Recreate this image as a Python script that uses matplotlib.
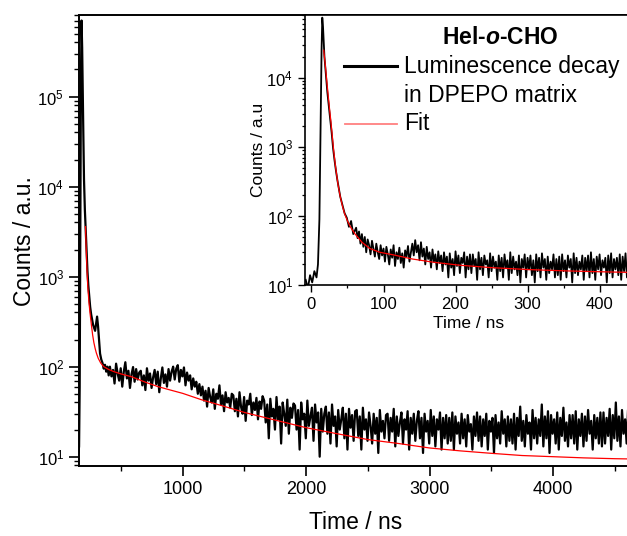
import numpy as np
import matplotlib
matplotlib.use("Agg")
import matplotlib.pyplot as plt
from matplotlib.ticker import MultipleLocator, LogLocator, NullFormatter

plt.rcParams['font.family'] = ['Liberation Sans', 'DejaVu Sans']
plt.rcParams['mathtext.fontset'] = 'custom'
plt.rcParams['mathtext.rm'] = 'Liberation Sans'
plt.rcParams['mathtext.it'] = 'Liberation Sans:italic:bold'
plt.rcParams['mathtext.bf'] = 'Liberation Sans:bold'

# ---- main panel: long time window (ns) ----
main_t_head = [155, 160, 165, 170, 175, 180, 185, 190, 195, 200, 207, 214, 221, 228,
               235, 242, 250, 258, 266, 274, 282, 290, 298, 306, 314, 322, 330, 340,
               350, 360, 370, 380, 390, 400]
main_counts_head = [11, 13, 60, 3000, 1.5e5, 7.0e5, 3.5e5, 1.0e5, 3.5e4, 1.2e4, 5500,
                    3300, 1900, 1150, 800, 620, 460, 380, 330, 290, 270, 250, 300, 360,
                    280, 200, 140, 120, 110, 95, 105, 88, 100, 80]
main_t_tail = np.arange(410, 4650, 12.5)
main_counts_tail = [
    100, 78, 92, 65, 108, 84, 70, 96, 60, 88, 112, 74, 90, 58, 82, 99, 68, 94, 72, 86,
    90, 62, 80, 55, 96, 70, 84, 58, 76, 92, 64, 88, 52, 74, 98, 66, 82, 60, 94, 70,
    88, 100, 72, 95, 104, 68, 92, 78, 98, 62, 86, 70, 80, 56, 74, 60, 68, 50, 64, 48,
    60, 42, 54, 36, 58, 46, 40, 56, 34, 50, 44, 62, 38, 48, 32, 52, 40, 45, 35, 50,
    48, 32, 44, 28, 52, 36, 30, 46, 25, 42, 38, 50, 29, 40, 33, 45, 26, 41, 34, 47,
    42, 24, 38, 16, 44, 28, 34, 20, 46, 26, 36, 14, 40, 30, 22, 43, 18, 35, 27, 39,
    37, 20, 33, 12, 40, 26, 30, 16, 42, 22, 28, 35, 15, 38, 24, 31, 10, 34, 19, 30,
    36, 18, 31, 14, 38, 22, 28, 13, 33, 20, 26, 35, 16, 30, 12, 34, 21, 29, 15, 32,
    33, 17, 28, 12, 35, 20, 26, 15, 31, 22, 14, 30, 18, 27, 11, 33, 19, 25, 16, 29,
    30, 15, 27, 19, 34, 13, 28, 17, 24, 31, 14, 26, 20, 32, 12, 27, 18, 30, 15, 25,
    32, 16, 27, 11, 30, 19, 25, 14, 33, 17, 28, 13, 26, 20, 31, 12, 27, 16, 29, 14,
    27, 15, 31, 12, 28, 18, 24, 14, 30, 16, 26, 13, 29, 19, 23, 12, 28, 17, 31, 15,
    28, 13, 26, 17, 30, 12, 25, 19, 27, 11, 29, 16, 24, 14, 32, 18, 26, 13, 28, 15,
    26, 14, 30, 12, 27, 17, 36, 15, 25, 13, 29, 18, 24, 12, 33, 16, 27, 14, 26, 17,
    38, 13, 28, 16, 32, 11, 29, 18, 26, 14, 31, 12, 27, 17, 35, 15, 24, 13, 29, 16,
    29, 14, 32, 12, 26, 17, 30, 13, 28, 15, 33, 18, 25, 12, 29, 16, 27, 14, 31, 13,
    31, 14, 27, 17, 34, 12, 29, 16, 40, 15, 28, 13, 33, 18, 26, 14, 36, 12, 30, 16]
main_fit_t = [212, 218, 224, 230, 240, 250, 260, 270, 280, 290, 300, 315, 335, 360, 400,
              443, 500, 589, 700, 800, 900, 1000, 1150, 1300, 1500, 1700, 2000, 2250,
              2500, 2750, 3000, 3250, 3500, 3750, 4000, 4250, 4500, 4700]
main_fit = [3600, 2000, 1200, 800, 520, 380, 290, 225, 185, 160, 142, 124, 110, 100, 93,
            88, 83, 77, 67, 60, 55, 50.5, 43, 37.5, 31, 26.5, 21, 18, 15.5, 14, 12.5,
            11.6, 10.9, 10.3, 10, 9.7, 9.5, 9.4]

# ---- inset: short time window (ns) ----
inset_t_head = [-8, -5, -2, 1, 4, 7, 9, 11, 12, 13, 14, 15, 16, 17, 18, 20, 22, 24, 26,
                28, 30, 32, 34, 36, 38, 40, 43, 46, 49, 52, 55, 58]
inset_counts_head = [12, 9, 14, 11, 16, 13, 20, 90, 600, 3500, 2.5e4, 7.4e4, 5.5e4,
                     3.2e4, 2.0e4, 1.1e4, 6200, 3900, 2500, 1600, 950, 640, 450, 330,
                     250, 190, 145, 110, 95, 70, 85, 55]
inset_t_tail = np.arange(62, 441, 2)
inset_counts_tail = [
    68, 48, 60, 40, 55, 36, 50, 30, 46, 38, 28, 44, 34, 26, 40, 30, 24, 38, 27, 34,
    22, 36, 28, 20, 33, 25, 38, 19, 30, 24, 35, 21, 29, 18, 32, 26, 37, 22, 30, 40,
    27, 45, 30, 38, 23, 42, 26, 34, 20, 36, 24, 30, 18, 33, 22, 28, 17, 31, 21, 27,
    16, 30, 20, 26, 13, 29, 18, 24, 14, 31, 19, 27, 15, 25, 21, 30, 13, 26, 17, 28,
    15, 28, 19, 24, 12, 30, 17, 25, 14, 27, 20, 23, 13, 29, 16, 26, 18, 22, 12, 27,
    16, 25, 13, 28, 18, 23, 12, 30, 15, 26, 17, 22, 14, 27, 11, 24, 18, 28, 13, 25,
    17, 27, 14, 23, 11, 28, 16, 25, 13, 29, 18, 24, 12, 26, 15, 22, 17, 28, 13, 24,
    14, 26, 12, 28, 16, 23, 13, 27, 18, 24, 11, 29, 15, 25, 14, 22, 17, 27, 12, 25,
    16, 27, 13, 30, 15, 24, 12, 26, 17, 28, 14, 23, 18, 25, 11, 27, 15, 29, 13, 24,
    17, 25, 14, 28, 12, 26, 16, 29, 13, 27]
inset_fit_t = [17, 19, 21, 23, 25, 27, 29, 31, 33, 35, 37, 40, 43, 46, 50, 54, 60, 70,
               81, 95, 114, 140, 170, 206, 250, 300, 350, 400, 450]
inset_fit = [25000, 16000, 9500, 5800, 3600, 2300, 1400, 850, 560, 390, 280, 190, 140,
             108, 85, 70, 56, 42, 34, 30, 27.5, 24, 21.5, 19.5, 18, 16.9, 16.2, 15.7, 15.3]

legend_title = r"Hel-$\it{o}$-CHO"
legend_labels = ["Luminescence decay", "in DPEPO matrix", "Fit"]

W, H = 627, 536
fig = plt.figure(figsize=(W / 100, H / 100), dpi=100)


def px(x0, y0, x1, y1):
    # pixel box (left, top, right, bottom) -> figure fraction rect
    return [x0 / W, 1 - y1 / H, (x1 - x0) / W, (y1 - y0) / H]


ax = fig.add_axes(px(78.7, 15.3, 632, 466))
ax.plot(np.concatenate([main_t_head, main_t_tail]),
        np.concatenate([main_counts_head, main_counts_tail]),
        color='black', lw=1.6)
ax.plot(main_fit_t, main_fit, color='red', lw=0.9)
ax.set_yscale('log')
ax.set_xlim(157, 4641)
ax.set_ylim(7.88, 8.0e5)
ax.xaxis.set_major_locator(MultipleLocator(1000))
ax.xaxis.set_minor_locator(MultipleLocator(500))
ax.yaxis.set_major_locator(LogLocator(base=10, numticks=10))
ax.yaxis.set_minor_locator(LogLocator(base=10, subs=np.arange(2, 10), numticks=20))
ax.yaxis.set_minor_formatter(NullFormatter())
ax.tick_params(which='major', direction='out', length=7, width=1.2, labelsize=13)
ax.tick_params(which='minor', direction='out', length=3.5, width=1.0)
ax.tick_params(axis='y', labelsize=12)
ax.tick_params(top=False, right=False, which='both')
for s in ax.spines.values():
    s.set_linewidth(1.4)
ax.set_xlabel("Time / ns", fontsize=16.5, labelpad=10)
ax.set_ylabel("Counts / a.u.", fontsize=16.5, labelpad=1)

ins = fig.add_axes(px(305, 15.3, 632, 285.3))
ins.set_facecolor('white')
ins.plot(np.concatenate([inset_t_head, inset_t_tail]),
         np.concatenate([inset_counts_head, inset_counts_tail]),
         color='black', lw=1.3)
ins.plot(inset_fit_t, inset_fit, color='red', lw=0.9)
ins.set_yscale('log')
ins.set_xlim(-9, 445)
ins.set_ylim(10, 8e4)
ins.xaxis.set_major_locator(MultipleLocator(100))
ins.xaxis.set_minor_locator(MultipleLocator(50))
ins.yaxis.set_major_locator(LogLocator(base=10, numticks=10))
ins.yaxis.set_minor_locator(LogLocator(base=10, subs=np.arange(2, 10), numticks=20))
ins.yaxis.set_minor_formatter(NullFormatter())
ins.tick_params(which='major', direction='out', length=5, width=1.0, labelsize=12)
ins.tick_params(which='minor', direction='out', length=2.5, width=0.9)
ins.tick_params(top=False, right=False, which='both')
for s in ins.spines.values():
    s.set_linewidth(1.2)
ins.set_xlabel("Time / ns", fontsize=12.5, labelpad=3)
ins.set_ylabel("Counts / a.u", fontsize=12.5, labelpad=0)

# legend drawn by hand (the two-line label sits beside the first line)
fig.text(500 / W, 1 - 38 / H, legend_title, fontsize=16.5, fontweight='bold',
         ha='center', va='center')
fig.add_artist(plt.Line2D([344 / W, 397 / W], [1 - 66 / H, 1 - 66 / H],
                          color='black', lw=2.2))
fig.add_artist(plt.Line2D([345 / W, 397 / W], [1 - 124 / H, 1 - 124 / H],
                          color='#ff8080', lw=1.3))
for lab, y in zip(legend_labels, [66, 96, 124]):
    fig.text(404 / W, 1 - y / H, lab, fontsize=16.5, ha='left', va='center')

fig.savefig("out.png", dpi=100)
